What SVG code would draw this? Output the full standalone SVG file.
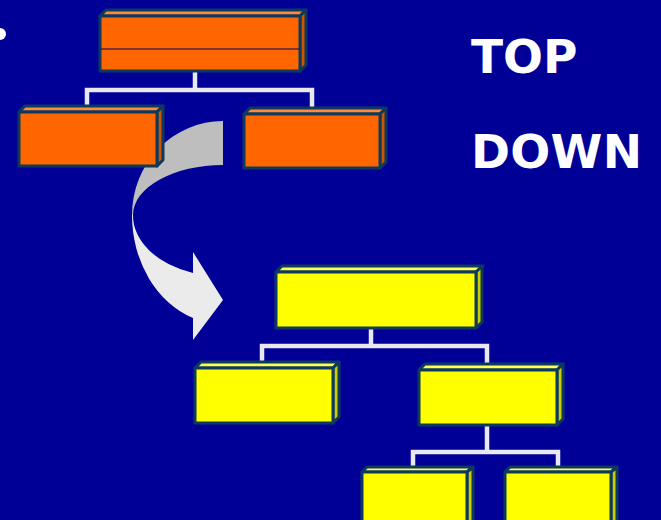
<svg xmlns="http://www.w3.org/2000/svg" width="661" height="520" viewBox="0 0 661 520">
<style>
.bx{stroke:#0d3a5c;stroke-width:3;stroke-linejoin:round}
.o .f{fill:#ff6600}.o .t{fill:#ff8a3d}.o .s{fill:#cc5500}
.y .f{fill:#ffff00}.y .t{fill:#ffff55}.y .s{fill:#cccc00}
.cn{fill:none;stroke:#e8e8f0;stroke-width:4.5}
.lbl{font-family:"DejaVu Sans",Verdana,sans-serif;font-weight:bold;font-size:47px;fill:#ffffff}
</style>
<rect width="661" height="520" fill="#000096"/>
<circle cx="0" cy="34" r="6" fill="#ffffff"/>
<g id="connectors" class="cn">
<path d="M195,72 V90 M87,105 V90 H312 V108"/>
<path d="M371,329 V346 M262,362 V346 H487 V365"/>
<path d="M487,426 V452 M413,468 V452 H558 V468"/>
</g>
<g id="arrow">
<path d="M223,121 A91,94 0 0 0 132,215 L133,215 A90,50 0 0 1 223,165 Z" fill="#bebebe"/>
<path d="M132,215 A91,109 0 0 0 193,318 L193,340 L223,300 L193,252 L193,273 A90,61 0 0 1 133,215 Z" fill="#ebebeb"/>
</g>
<g id="o-top" class="o bx">
<polygon class="t" points="100,16 106,10 306,10 300,16"/>
<polygon class="s" points="300,16 306,10 306,65 300,71"/>
<rect class="f" x="100" y="16" width="200" height="55"/>
<line x1="101" y1="49" x2="299" y2="49" stroke="#000066" stroke-width="1"/>
</g>
<g id="o-left" class="o bx">
<polygon class="t" points="19,112 25,106 163,106 157,112"/>
<polygon class="s" points="157,112 163,106 163,160 157,166"/>
<rect class="f" x="19" y="112" width="138" height="54"/>
</g>
<g id="o-right" class="o bx">
<polygon class="t" points="244,114 250,108 386,108 380,114"/>
<polygon class="s" points="380,114 386,108 386,162 380,168"/>
<rect class="f" x="244" y="114" width="136" height="54"/>
</g>
<g id="y-top" class="y bx">
<polygon class="t" points="276,272 282,266 483,266 477,272"/>
<polygon class="s" points="476,272 482,266 482,322 476,328"/>
<rect class="f" x="276" y="272" width="200" height="56"/>
</g>
<g id="y-left" class="y bx">
<polygon class="t" points="195,368 201,362 339,362 333,368"/>
<polygon class="s" points="333,368 339,362 339,417 333,423"/>
<rect class="f" x="195" y="368" width="138" height="55"/>
</g>
<g id="y-right" class="y bx">
<polygon class="t" points="419,370 425,364 563,364 557,370"/>
<polygon class="s" points="557,370 563,364 563,419 557,425"/>
<rect class="f" x="419" y="370" width="138" height="55"/>
</g>
<g id="y-bl" class="y bx">
<polygon class="t" points="362,472 367,467 473,467 467,472"/>
<polygon class="s" points="467,472 473,467 473,525 467,530"/>
<rect class="f" x="362" y="472" width="105" height="58"/>
</g>
<g id="y-br" class="y bx">
<polygon class="t" points="505,472 510,467 617,467 611,472"/>
<polygon class="s" points="611,472 617,467 617,525 611,530"/>
<rect class="f" x="505" y="472" width="106" height="58"/>
</g>
<text class="lbl" x="471" y="73">TOP</text>
<text class="lbl" x="471" y="168" textLength="171" lengthAdjust="spacing">DOWN</text>
</svg>
